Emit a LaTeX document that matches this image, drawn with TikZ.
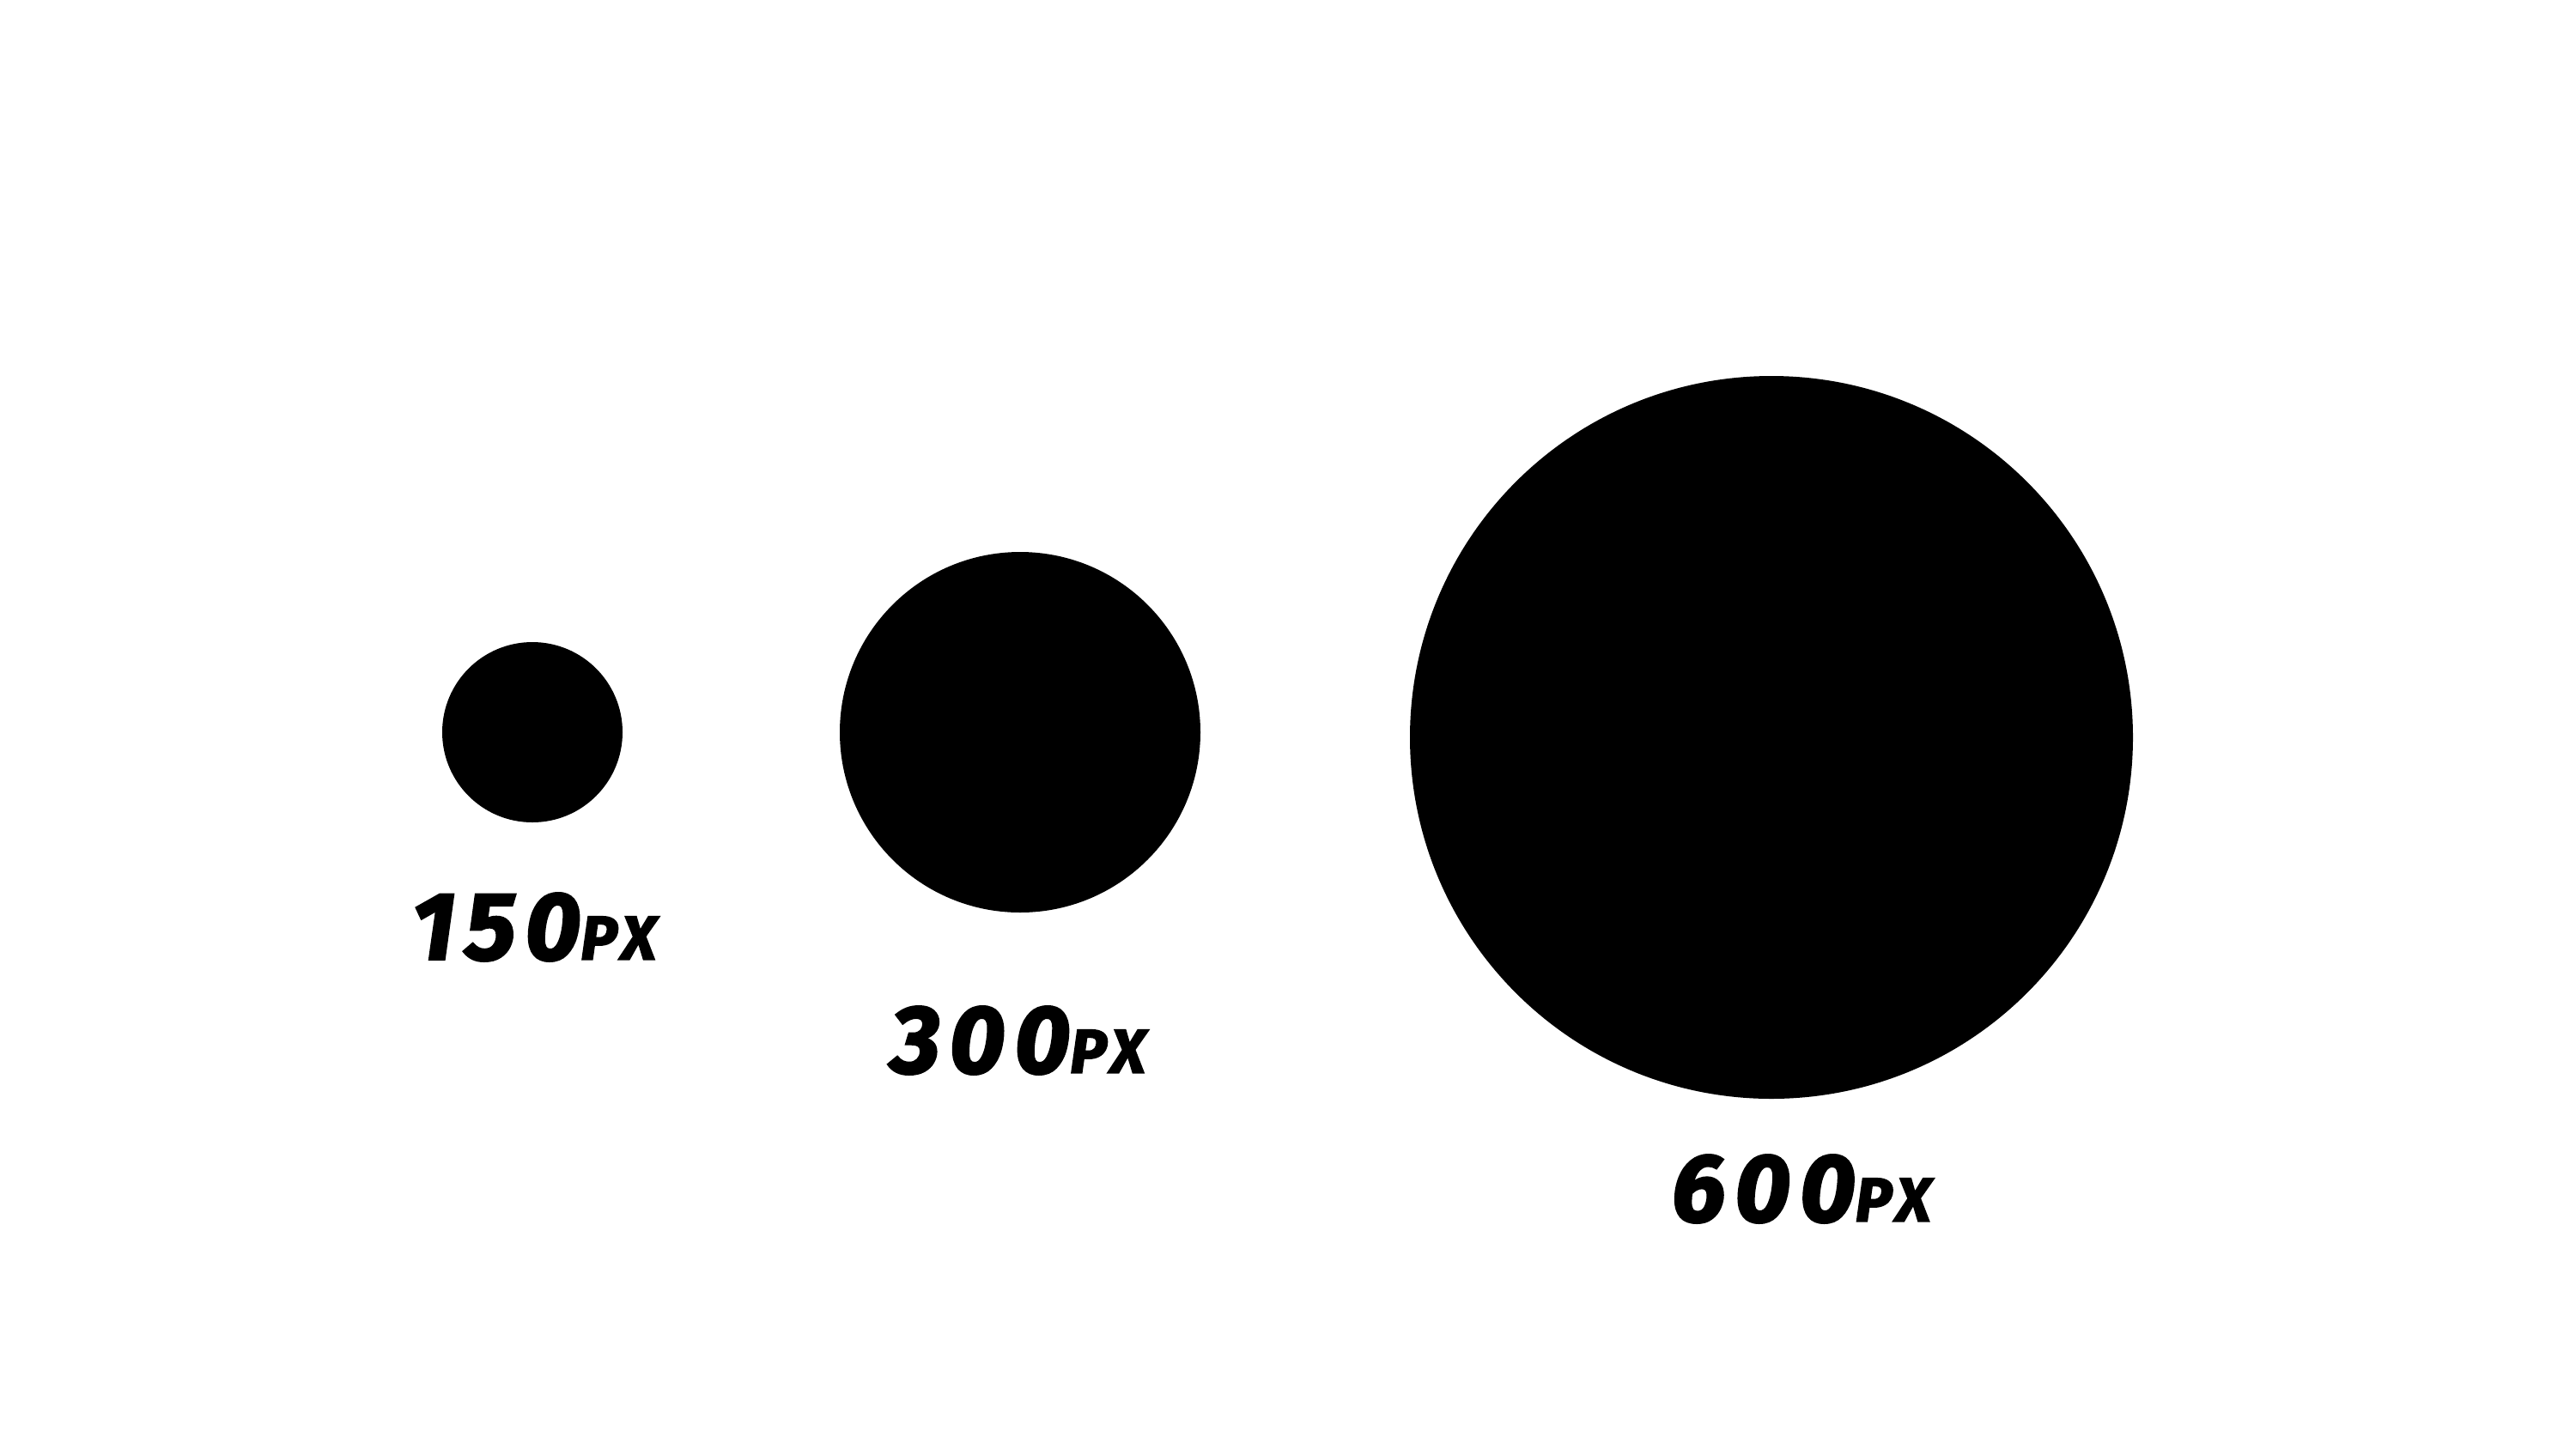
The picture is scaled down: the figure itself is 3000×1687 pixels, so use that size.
\documentclass[tikz,border=0pt]{standalone}
\usepackage{fontspec}
\setmainfont{Fira Sans}
\newfontfamily\labelfont[LetterSpace=10, BoldItalicFeatures={FakeBold=2.5}]{Fira Sans}
\tikzset{
  dot/.style={circle, fill=black, draw=none, inner sep=0pt},
  sizelabel/.style={font=\labelfont\bfseries\itshape\fontsize{112}{112}\selectfont, text=black, inner sep=0pt, anchor=center}
}
\newcommand{\pxsuffix}{{\fontsize{72}{72}\selectfont PX}}
\begin{document}
\begin{tikzpicture}[x=1pt,y=-1pt]
\useasboundingbox (0,0) rectangle (3000,1687);
\fill[white] (0,0) rectangle (3000,1687);
\node[dot, minimum size=210pt] (c1) at (620,853) {};
\node[dot, minimum size=420pt] (c2) at (1188,853) {};
\node[dot, minimum size=842pt] (c3) at (2063,859) {};
\node[sizelabel] (l1) at (622,1080) {150\pxsuffix};
\node[sizelabel] (l2) at (1186,1212) {300\pxsuffix};
\node[sizelabel] (l3) at (2098,1385) {600\pxsuffix};
\end{tikzpicture}
\end{document}
